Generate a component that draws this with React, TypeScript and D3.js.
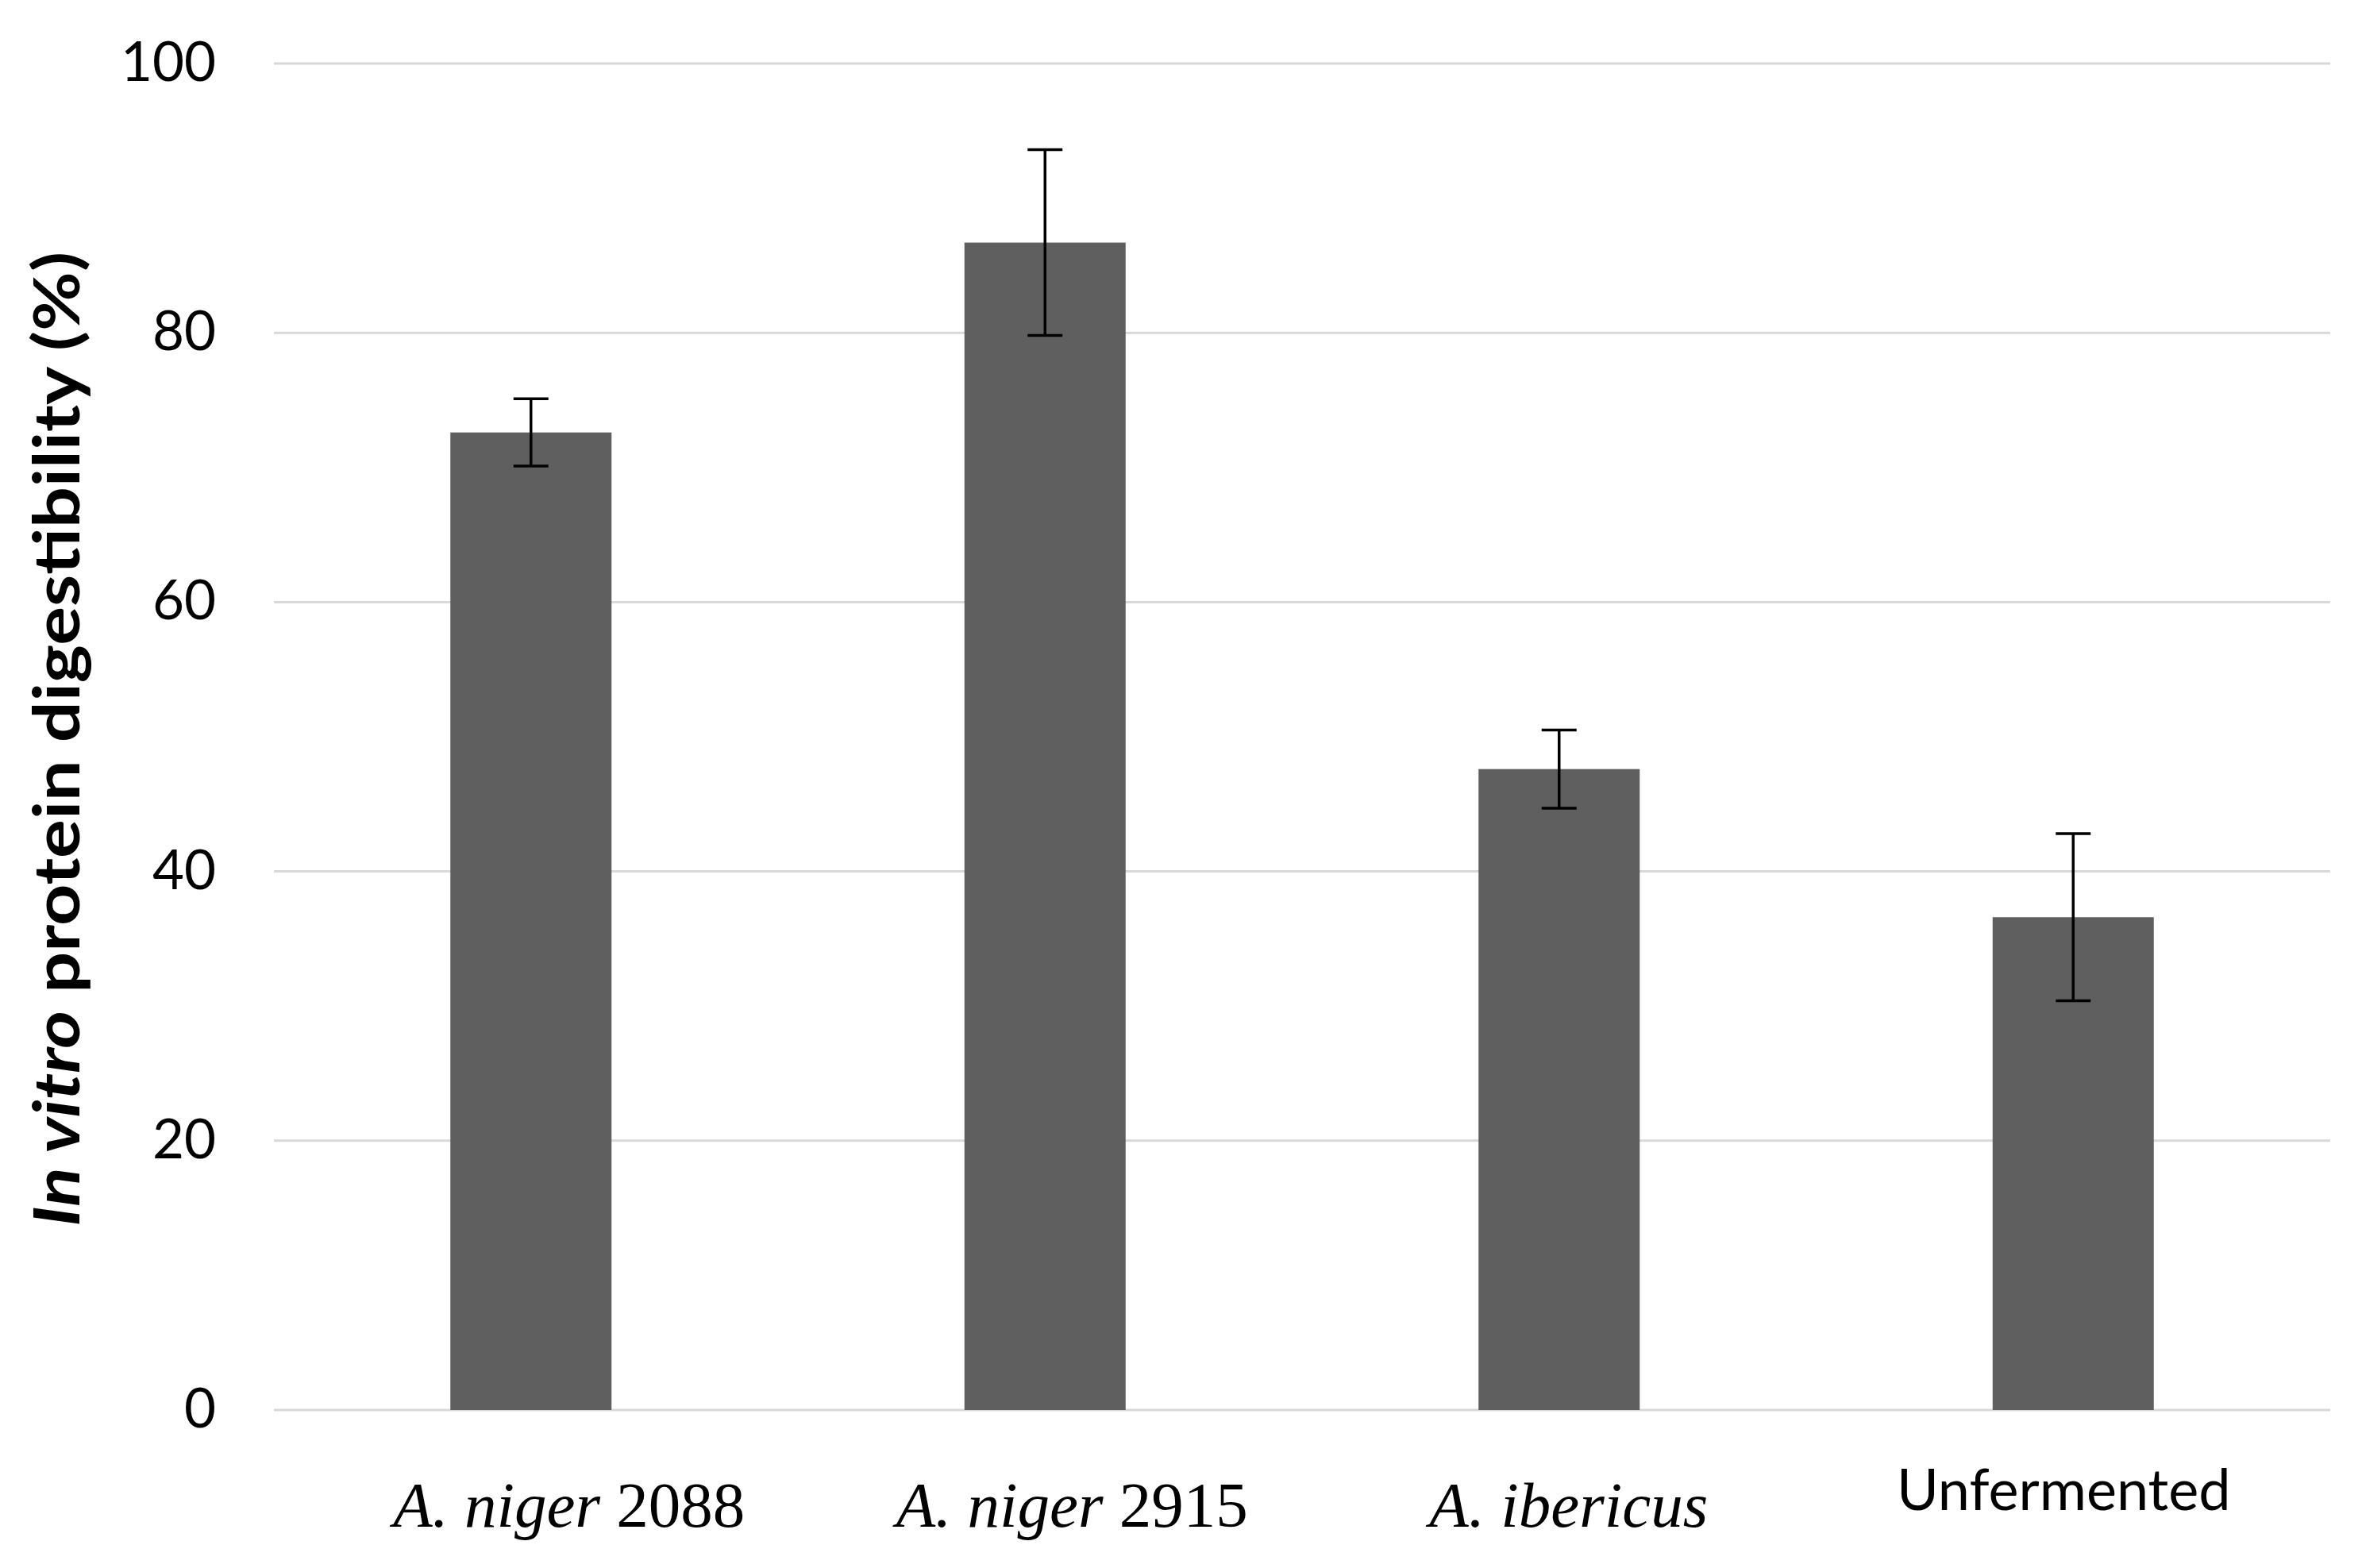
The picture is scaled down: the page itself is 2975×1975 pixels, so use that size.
import React from "react";
import * as d3 from "d3";

const categories = ["A. niger 2088", "A. niger 2915", "A. ibericus", "Unfermented"];
const italicParts = ["A. niger", "A. niger", "A. ibericus", ""];
const romanParts = [" 2088", " 2915", "", "Unfermented"];
const values = [72.6, 86.7, 47.6, 36.6];
const errors = [2.5, 6.9, 2.9, 6.2];
const yTicks = [0, 20, 40, 60, 80, 100];

const W = 2975;
const H = 1975;
// horizontal nudges of the category labels (layout only)
const LABEL_NUDGE = [48, 34, 12, -12];

export default function App() {
  const x = d3
    .scaleBand<string>()
    .domain(categories)
    .range([345, 2935])
    .paddingInner(0.6865)
    .paddingOuter(0.6865 / 2);
  const y = d3.scaleLinear().domain([0, 100]).range([1776, 80]);
  const bw = x.bandwidth();
  const cap = 22;

  return (
    <svg
      width={W}
      height={H}
      viewBox={`0 0 ${W} ${H}`}
      style={{ position: "absolute", left: 0, top: 0, background: "#fff" }}
    >
      <rect x={0} y={0} width={W} height={H} fill="#fff" />
      {yTicks.map((t) => (
        <line
          key={"g" + t}
          x1={345}
          x2={2935}
          y1={y(t)}
          y2={y(t)}
          stroke="#d9d9d9"
          strokeWidth={3}
        />
      ))}
      {yTicks.map((t) => (
        <text
          key={"t" + t}
          x={272}
          y={y(t) + 22}
          textAnchor="end"
          fontFamily="Lato, 'Noto Sans', sans-serif"
          fontSize={69}
          fill="#000"
        >
          {t}
        </text>
      ))}
      {categories.map((c, i) => (
        <rect
          key={"b" + c}
          x={x(c)!}
          y={y(values[i])}
          width={bw}
          height={y(0) - y(values[i])}
          fill="#5f5f5f"
        />
      ))}
      {categories.map((c, i) => {
        const cx = x(c)! + bw / 2;
        const top = y(values[i] + errors[i]);
        const bot = y(values[i] - errors[i]);
        return (
          <g key={"e" + c} stroke="#000" strokeWidth={3.5}>
            <line x1={cx} x2={cx} y1={top} y2={bot} />
            <line x1={cx - cap} x2={cx + cap} y1={top} y2={top} />
            <line x1={cx - cap} x2={cx + cap} y1={bot} y2={bot} />
          </g>
        );
      })}
      {categories.map((c, i) => {
        const cx = x(c)! + bw / 2 + LABEL_NUDGE[i];
        if (italicParts[i] === "") {
          return (
            <text
              key={"l" + c}
              x={cx}
              y={1902}
              textAnchor="middle"
              fontFamily="Lato, 'Noto Sans', sans-serif"
              fontSize={72}
              fill="#000"
            >
              {romanParts[i]}
            </text>
          );
        }
        return (
          <text
            key={"l" + c}
            x={cx}
            y={1923}
            textAnchor="middle"
            fontFamily="'Liberation Serif', 'DejaVu Serif', serif"
            fontSize={81}
            fill="#000"
            style={{ whiteSpace: "pre" }}
          >
            <tspan fontStyle="italic">{italicParts[i]}</tspan>
            {romanParts[i] !== "" && <tspan>{romanParts[i]}</tspan>}
          </text>
        );
      })}
      <text
        transform={`translate(100, 931) rotate(-90)`}
        textAnchor="middle"
        fontFamily="Lato, 'Noto Sans', sans-serif"
        fontWeight="bold"
        fontSize={80}
        fill="#000"
        textLength={1228}
        lengthAdjust="spacingAndGlyphs"
      >
        <tspan fontStyle="italic">In vitro</tspan>
        <tspan> protein digestibility (%)</tspan>
      </text>
    </svg>
  );
}
